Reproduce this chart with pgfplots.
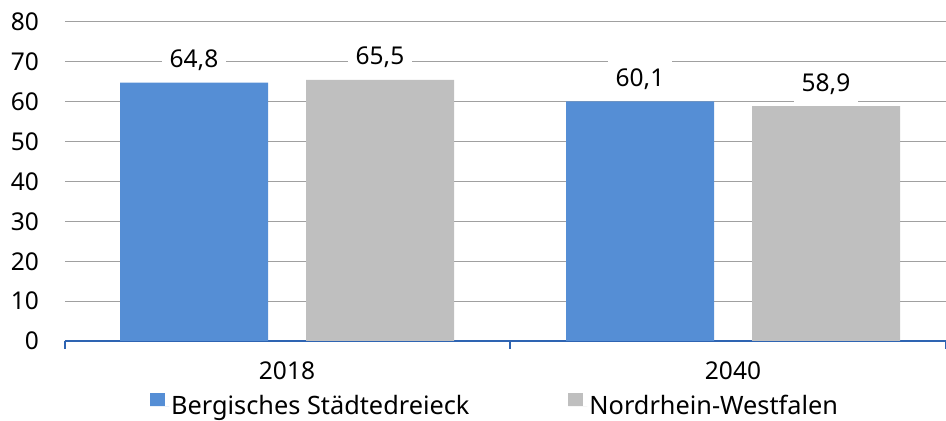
\documentclass[border=0pt]{standalone}
\usepackage{fontspec}
\setmainfont{Noto Sans}
\usepackage{pgfplots}
\pgfplotsset{compat=1.18}
\usetikzlibrary{calc}
\definecolor{barblue}{HTML}{558ED5}
\definecolor{bargrey}{HTML}{BFBFBF}
\definecolor{gridgrey}{HTML}{A0A0A0}
\definecolor{axblue}{HTML}{2E64B2}
\begin{document}
\fontsize{25}{29}\selectfont
\begin{tikzpicture}
\begin{axis}[
  name=ax, at={(0,0)}, anchor=south west,
  scale only axis, width=881pt, height=319pt,
  xmin=-0.4978, xmax=1.4776, ymin=0, ymax=80,
  /pgf/number format/assume math mode=true,
  axis lines*=left,
  x axis line style={draw=axblue, line width=1.5pt, -},
  y axis line style={draw=none},
  ytick={0,10,...,80},
  ymajorgrids, major grid style={draw=gridgrey, line width=1pt},
  xtick={0,1}, xticklabels={2018,2040},
  major tick length=0pt,
  tick align=outside,
  extra x ticks={-0.4978,0.5,1.4776},
  extra x tick labels={},
  extra x tick style={major tick length=8pt, tick style={draw=axblue, line width=1.2pt}},
  xticklabel style={inner sep=0pt, anchor=north, yshift=-21pt},
  yticklabel style={inner sep=0pt, anchor=east, xshift=-26pt},
  tick label style={font=\fontsize{24.5}{28}\selectfont},
  clip=false,
  nodes near coords={\pgfmathprintnumber[fixed,fixed zerofill,precision=1,use comma]{\pgfplotspointmeta}},
  nodes near coords style={anchor=base, yshift=15pt, fill=white, inner xsep=8pt, inner ysep=9pt, font=\fontsize{24.5}{28}\selectfont, text=black},
  legend columns=2,
  legend style={at={(0.0965,-0.162)}, anchor=north west, draw=none, inner sep=0pt, font=\fontsize{25.3}{29}\selectfont,
    /tikz/every even column/.append style={column sep=97pt}},
  legend cell align=left,
  legend image code/.code={\path (0pt,0pt) -- (19pt,0pt); \fill[#1] (0pt,0pt) rectangle (15pt,13pt);},
]
\addplot[ybar, fill=barblue, draw=none, bar width=148pt, bar shift=-93pt,
  every node near coord/.append style={xshift=-93pt}] coordinates {(0,64.8) (1,60.1)};
\addlegendentry{Bergisches Städtedreieck}
\addplot[ybar, fill=bargrey, draw=none, bar width=148pt, bar shift=93pt,
  every node near coord/.append style={xshift=93pt}] coordinates {(0,65.5) (1,58.9)};
\addlegendentry{Nordrhein-Westfalen}
\end{axis}
\pgfresetboundingbox
\useasboundingbox ($(ax.south west)+(-65pt,-80pt)$) rectangle ($(ax.north east)+(0pt,22pt)$);
\end{tikzpicture}
\end{document}
